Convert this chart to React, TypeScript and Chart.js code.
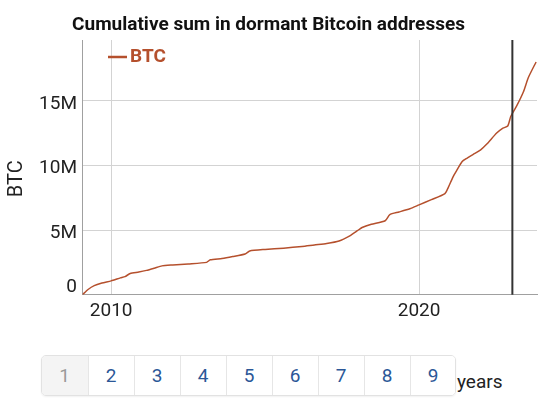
import React, { useEffect, useRef } from 'react';
import { Chart, registerables } from 'chart.js';

Chart.register(...registerables);

const chartTitle = 'Cumulative sum in dormant Bitcoin addresses';
const seriesLabel = 'BTC';
const yAxisTitle = 'BTC';

const years = [
  2009.07, 2009.25, 2009.45, 2009.7, 2010.0, 2010.3, 2010.45, 2010.62, 2010.9, 2011.15,
  2011.4, 2011.65, 2012.0, 2012.5, 2013.1, 2013.22, 2013.6, 2013.95, 2014.35, 2014.5,
  2015.0, 2015.6, 2016.2, 2016.6, 2017.0, 2017.4, 2017.75, 2018.0, 2018.15, 2018.45,
  2018.9, 2019.05, 2019.35, 2019.7, 2020.0, 2020.4, 2020.84, 2020.95, 2021.1, 2021.22,
  2021.4, 2021.55, 2021.76, 2022.0, 2022.2, 2022.52, 2022.7, 2022.88, 2022.98, 2023.17,
  2023.39, 2023.55, 2023.8,
];
const btcMillions = [
  0, 0.4, 0.7, 0.9, 1.07, 1.3, 1.4, 1.64, 1.75, 1.88,
  2.05, 2.23, 2.3, 2.38, 2.5, 2.7, 2.8, 2.95, 3.15, 3.38,
  3.5, 3.6, 3.73, 3.85, 3.96, 4.15, 4.55, 4.95, 5.2, 5.45,
  5.72, 6.2, 6.4, 6.65, 6.95, 7.35, 7.82, 8.3, 9.1, 9.6,
  10.3, 10.55, 10.85, 11.2, 11.65, 12.5, 12.85, 13.05, 13.8, 14.6,
  15.7, 16.8, 18.0,
];

const xTickValues = [2010, 2020];
const yTickValues = [0, 5, 10, 15];
const yTickLabels = ['0', '5M', '10M', '15M'];
const markerYear = 2023.03;
const xMin = 2009.07;
const xMax = 2023.83;
const yMin = 0;
const yMax = 19.7;

const yearButtons = ['1', '2', '3', '4', '5', '6', '7', '8', '9'];
const buttonSuffix = 'years';

const lineColor = '#b5502d';
const FONT = 'Roboto, "Noto Sans", sans-serif';

const overlayPlugin = {
  id: 'overlay',
  afterDatasetsDraw(chart: any) {
    const { ctx, chartArea, scales } = chart;
    const x = scales.x.getPixelForValue(markerYear);
    ctx.save();
    ctx.strokeStyle = '#333333';
    ctx.lineWidth = 2;
    ctx.beginPath();
    ctx.moveTo(x, chartArea.top);
    ctx.lineTo(x, chartArea.bottom);
    ctx.stroke();
    ctx.restore();
  },
  afterDraw(chart: any) {
    const { ctx, chartArea, scales } = chart;
    ctx.save();
    // y tick labels
    ctx.font = `19px ${FONT}`;
    ctx.fillStyle = '#222222';
    ctx.textAlign = 'right';
    ctx.textBaseline = 'middle';
    yTickValues.forEach((v, i) => {
      const py = scales.y.getPixelForValue(v);
      const off = v === 0 ? -7 : 3;
      ctx.fillText(yTickLabels[i], chartArea.left - 5.5, py + off);
    });
    // y axis title
    ctx.save();
    ctx.translate(16.5, 178.7);
    ctx.rotate(-Math.PI / 2);
    ctx.font = `20px ${FONT}`;
    ctx.textAlign = 'center';
    ctx.textBaseline = 'middle';
    ctx.fillStyle = '#222222';
    ctx.fillText(yAxisTitle, 0, 0);
    ctx.restore();
    // legend
    const ds = chart.data.datasets[0];
    const lx = chartArea.left + 25.5;
    const ly = chartArea.top + 17;
    ctx.strokeStyle = ds.borderColor;
    ctx.lineWidth = 2.5;
    ctx.beginPath();
    ctx.moveTo(lx, ly);
    ctx.lineTo(lx + 19, ly);
    ctx.stroke();
    ctx.font = `bold 19px ${FONT}`;
    ctx.fillStyle = ds.borderColor;
    ctx.textAlign = 'left';
    ctx.textBaseline = 'middle';
    ctx.fillText(ds.label, lx + 22, ly + 0.5);
    ctx.restore();
  },
};

export default function App() {
  const canvasRef = useRef<HTMLCanvasElement | null>(null);

  useEffect(() => {
    if (!canvasRef.current) return;
    const chart = new Chart(canvasRef.current, {
      type: 'line',
      data: {
        datasets: [
          {
            label: seriesLabel,
            data: years.map((x, i) => ({ x, y: btcMillions[i] })),
            borderColor: lineColor,
            backgroundColor: lineColor,
            borderWidth: 1.5,
            pointRadius: 0,
            tension: 0.2,
          },
        ],
      },
      options: {
        animation: false,
        responsive: false,
        events: [],
        layout: { padding: { left: 0, right: 3, top: 0, bottom: 0 } },
        plugins: {
          legend: { display: false },
          tooltip: { enabled: false },
          title: {
            display: true,
            text: chartTitle,
            color: '#111111',
            font: { family: FONT, size: 19, weight: 'bold' },
            padding: { top: 13.6, bottom: 3.6 },
          },
        },
        scales: {
          x: {
            type: 'linear',
            min: xMin,
            max: xMax,
            afterBuildTicks: (s: any) => {
              s.ticks = xTickValues.map((v) => ({ value: v }));
            },
            afterFit: (s: any) => {
              s.height = 35.3;
            },
            ticks: {
              callback: (v: any) => String(v),
              font: { family: FONT, size: 19 },
              color: '#222222',
              padding: 5,
              maxRotation: 0,
              autoSkip: false,
            },
            grid: { color: '#d3d3d3', drawTicks: false, lineWidth: 1 },
            border: { display: true, color: '#a0a0a0', width: 1 },
          },
          y: {
            type: 'linear',
            min: yMin,
            max: yMax,
            afterBuildTicks: (s: any) => {
              s.ticks = yTickValues.map((v) => ({ value: v }));
            },
            afterFit: (s: any) => {
              s.width = 82.5;
            },
            ticks: { display: false },
            grid: { color: '#d3d3d3', drawTicks: false, lineWidth: 1 },
            border: { display: true, color: '#a0a0a0', width: 1 },
          },
        },
      } as any,
      plugins: [overlayPlugin],
    });
    return () => chart.destroy();
  }, []);

  const btnW = 46.2;
  return (
    <div
      style={{
        position: 'absolute',
        left: 0,
        top: 0,
        width: 540,
        height: 407,
        background: '#ffffff',
        fontFamily: FONT,
        overflow: 'hidden',
      }}
    >
      <canvas
        ref={canvasRef}
        width={540}
        height={330}
        style={{ position: 'absolute', left: 0, top: 0, width: 540, height: 330 }}
      />
      <div
        style={{
          position: 'absolute',
          left: 40.7,
          top: 355,
          height: 40.7,
          width: btnW * yearButtons.length,
          display: 'flex',
          border: '1px solid #e2e2e2',
          borderRadius: 5,
          boxSizing: 'border-box',
          overflow: 'hidden',
          boxShadow: '0 1px 2px rgba(0,0,0,0.06)',
        }}
      >
        {yearButtons.map((b, i) => (
          <div
            key={b}
            style={{
              width: btnW,
              height: '100%',
              display: 'flex',
              alignItems: 'center',
              justifyContent: 'center',
              fontSize: 19,
              lineHeight: 1,
              color: i === 0 ? '#9a9a9a' : '#2b5797',
              background: i === 0 ? '#f4f4f4' : '#ffffff',
              borderLeft: i === 0 ? 'none' : '1px solid #e6e6e6',
              boxSizing: 'border-box',
            }}
          >
            {b}
          </div>
        ))}
      </div>
      <span
        style={{
          position: 'absolute',
          left: 457,
          top: 370.4,
          fontSize: 19,
          lineHeight: 'normal',
          color: '#222222',
          whiteSpace: 'nowrap',
        }}
      >
        {buttonSuffix}
      </span>
    </div>
  );
}
